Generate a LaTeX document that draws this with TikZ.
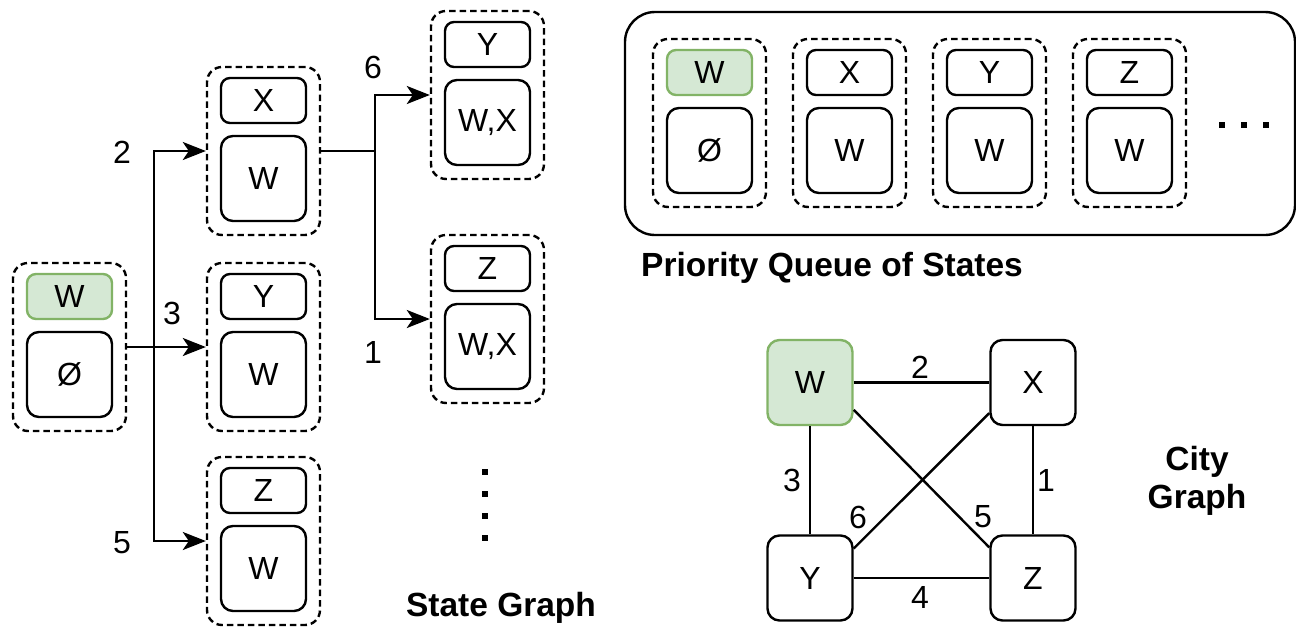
\documentclass[tikz,border=0pt]{standalone}
\usepackage{fontspec}
\setmainfont{Liberation Sans}
\usetikzlibrary{arrows.meta}
\definecolor{gfill}{HTML}{D5E8D4}
\definecolor{gstroke}{HTML}{82B366}
\newcommand\stateat[6]{%
  \node[dbox] (#1) at (#2+56.5,#3+84) {};
  \node[#6] (#1t) at (#2+56.5,#3+33.5) {#4};
  \node[bbox] (#1b) at (#2+56.5,#3+111.5) {#5};
}
\begin{document}
\begin{tikzpicture}[x=1pt,y=-1pt,
  every node/.style={font=\fontsize{32}{36}\selectfont},
  dbox/.style={draw, dash pattern=on 6.5pt off 4pt, line width=2.4pt, rounded corners=15pt, minimum width=113pt, minimum height=168pt, inner sep=0pt},
  tbox/.style={draw, line width=2.4pt, rounded corners=9pt, minimum width=85pt, minimum height=45pt, inner sep=0pt},
  bbox/.style={draw, line width=2.4pt, rounded corners=12pt, minimum width=85pt, minimum height=85pt, inner sep=0pt},
  gbox/.style={tbox, draw=gstroke, fill=gfill},
  cbox/.style={bbox},
  gcbox/.style={bbox, draw=gstroke, fill=gfill},
  arr/.style={line width=2.4pt, -{Stealth[length=23pt,width=18pt,inset=6pt]}},
  ln/.style={line width=2.4pt},
  lbl/.style={inner sep=0pt},
  captext/.style={font=\fontsize{33.5}{38}\selectfont\bfseries, align=center, inner sep=0pt},
  dot/.style={fill=black, minimum size=5.5pt, inner sep=0pt},
]
\useasboundingbox (0,0) rectangle (1296,627);

% ---------- State graph ----------
\stateat{s0}{13}{263}{W}{Ø}{gbox}
\stateat{sX}{207}{67}{X}{W}{tbox}
\stateat{sY}{207}{263}{Y}{W}{tbox}
\stateat{sZ}{207}{457}{Z}{W}{tbox}
\stateat{sY2}{431}{11}{Y}{W,X}{tbox}
\stateat{sZ2}{431}{235}{Z}{W,X}{tbox}

\draw[arr] (s0.east) -- ++(27,0) |- (sX.west);
\draw[arr] (s0.east) -- (sY.west);
\draw[arr] (s0.east) -- ++(27,0) |- (sZ.west);
\draw[arr] (sX.east) -- ++(54,0) |- (sY2.west);
\draw[arr] (sX.east) -- ++(54,0) |- (sZ2.west);

\node[lbl] (l2) at (122,152) {2};
\node[lbl] (l3) at (172,313) {3};
\node[lbl] (l5) at (122,543) {5};
\node[lbl] (l6) at (373,67) {6};
\node[lbl] (l1) at (373,352) {1};

\node[dot] (v1) at (485,472) {};
\node[dot] (v2) at (485,494) {};
\node[dot] (v3) at (485,516) {};
\node[dot] (v4) at (485,538) {};

\node[captext] (sgcap) at (501,608) {State Graph};

% ---------- Priority queue ----------
\node[draw, line width=2.4pt, rounded corners=30pt, minimum width=670pt, minimum height=223pt, inner sep=0pt] (pq) at (960,123.5) {};
\stateat{q1}{653}{39}{W}{Ø}{gbox}
\stateat{q2}{793}{39}{X}{W}{tbox}
\stateat{q3}{933}{39}{Y}{W}{tbox}
\stateat{q4}{1073}{39}{Z}{W}{tbox}
\node[dot] (h1) at (1222,125) {};
\node[dot] (h2) at (1244,125) {};
\node[dot] (h3) at (1266,125) {};
\node[captext] (pqcap) at (832,268) {Priority Queue of States};

% ---------- City graph ----------
\node[gcbox] (cW) at (810,382.5) {W};
\node[cbox] (cX) at (1033,382.5) {X};
\node[cbox] (cY) at (810,578) {Y};
\node[cbox] (cZ) at (1033,578) {Z};
\draw[ln] (cW) -- (cX);
\draw[ln] (cW) -- (cY);
\draw[ln] (cX) -- (cZ);
\draw[ln] (cY) -- (cZ);
\draw[ln] (cW.-32.6) -- (cZ.145.4);
\draw[ln] (cY.34) -- (cX.215);
\node[lbl] (e2) at (920,367) {2};
\node[lbl] (e3) at (792,480) {3};
\node[lbl] (e1) at (1046,480) {1};
\node[lbl] (e4) at (920,597) {4};
\node[lbl] (e6) at (858,517) {6};
\node[lbl] (e5) at (983,517) {5};
\node[captext] (cgcap) at (1197,481) {City\\Graph};
\end{tikzpicture}
\end{document}
